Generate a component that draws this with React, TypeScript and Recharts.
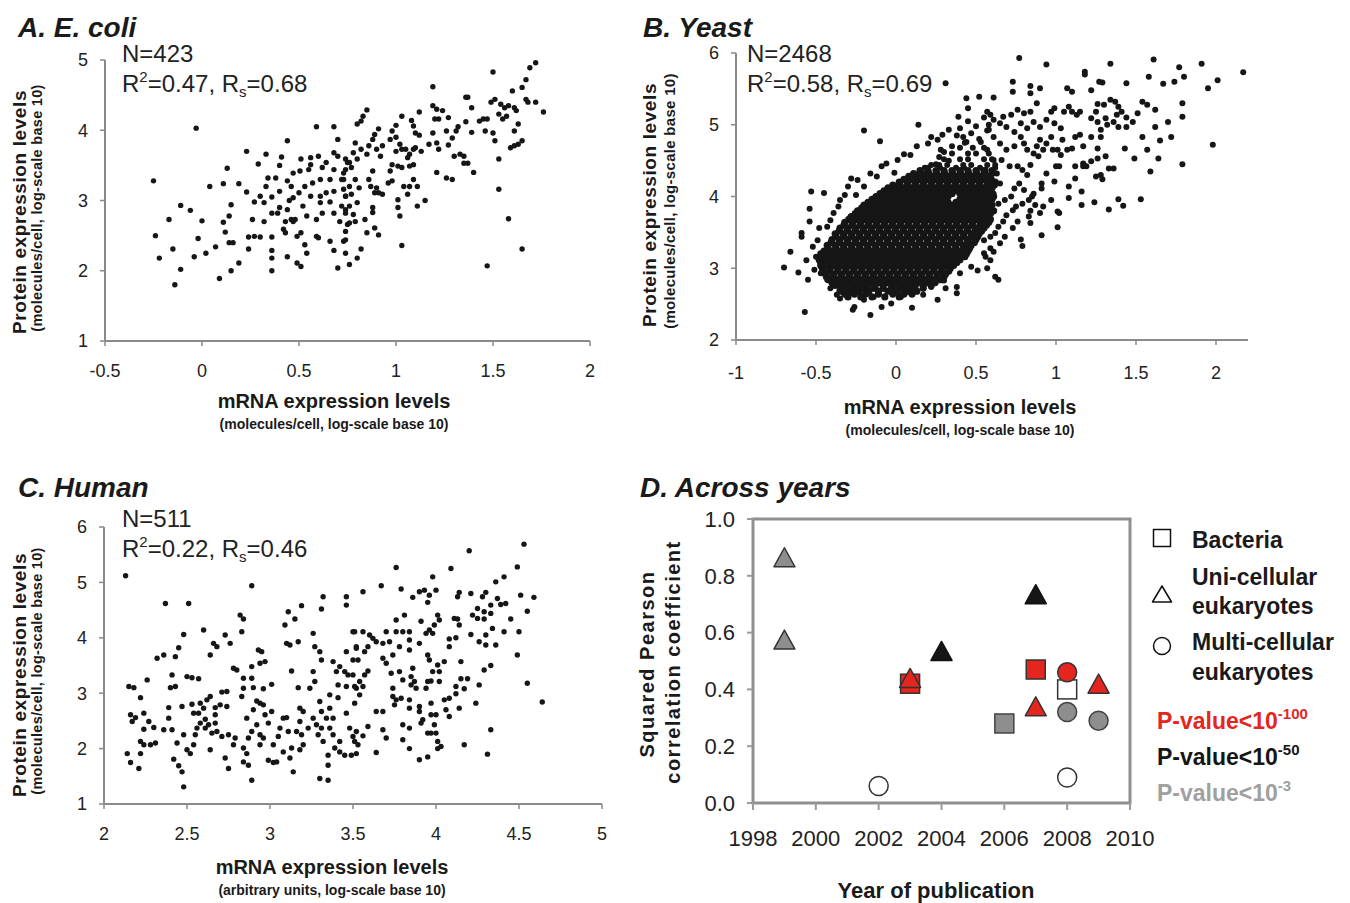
import React from 'react';
import { ScatterChart, Scatter, XAxis, YAxis, ReferenceArea } from 'recharts';

const FONT = '"Liberation Sans", Arial, Helvetica, sans-serif';
const AXIS_GRAY = '#8a8a8a';
const DOT = '#161616';

// ---------------- Panel A: E. coli ----------------
const ecoliXTicks = [-0.5, 0, 0.5, 1, 1.5, 2];
const ecoliYTicks = [1, 2, 3, 4, 5];
const ecoliPoints: [number, number][] = [
  [-0.03,4.03],[-0.25,3.28],[-0.17,2.73],[-0.24,2.50],[-0.22,2.18],[-0.11,2.93],[-0.06,2.86],[-0.15,2.31],[-0.11,2.02],[-0.14,1.80],
  [-0.02,2.46],[-0.04,2.20],[0.00,2.71],[0.02,2.25],[0.04,3.20],[0.07,2.34],[0.09,1.89],[0.11,3.24],[0.13,3.46],[0.11,2.69],
  [0.12,2.55],[0.15,2.94],[0.14,2.78],[0.14,2.40],[0.16,2.40],[0.15,2.00],[0.19,3.24],[0.19,2.11],[0.23,3.70],[0.23,3.12],
  [0.24,2.48],[0.24,2.31],[0.27,2.98],[0.26,2.73],[0.27,2.49],[0.30,2.48],[0.29,3.52],[0.33,3.66],[0.32,2.97],[0.32,2.70],
  [0.34,3.32],[0.36,3.05],[0.36,2.82],[0.36,2.48],[0.36,2.29],[0.36,2.18],[0.36,2.00],[0.38,3.32],[0.39,2.82],[0.40,3.50],
  [0.40,3.13],[0.41,3.62],[0.42,2.59],[0.43,2.54],[0.44,3.85],[0.44,3.28],[0.45,3.00],[0.44,2.20],[0.46,2.73],[0.47,2.70],
  [0.48,2.73],[0.47,3.39],[0.49,2.11],[0.50,3.11],[0.51,3.59],[0.51,2.06],[0.51,2.54],[0.53,3.20],[0.53,2.37],[0.54,2.78],
  [0.54,2.25],[0.55,3.44],[0.56,3.06],[0.56,3.51],[0.59,4.05],[0.59,2.49],[0.60,2.47],[0.60,3.63],[0.61,3.30],[0.61,2.97],
  [0.62,3.47],[0.62,2.82],[0.64,3.11],[0.66,2.98],[0.66,2.42],[0.68,2.82],[0.68,4.05],[0.70,3.87],[0.68,2.29],[0.70,2.04],
  [0.71,2.70],[0.70,3.63],[0.72,3.30],[0.68,3.68],[0.73,3.39],[0.74,3.06],[0.74,2.44],[0.75,2.66],[0.75,3.54],
  [0.505,3.42],[0.57,3.25],[0.66,3.30],[0.61,3.06],[0.52,2.92],[0.68,3.13],[0.72,2.92],[0.59,2.73],[0.74,2.82],[0.56,3.61],
  [0.64,3.54],[0.68,3.44],[0.47,3.04],[0.49,2.49],[0.44,2.87],[0.33,3.20],[0.30,3.06],[0.40,2.90],[0.43,2.70],[0.46,3.20],
  [1.72,4.96],[1.69,4.89],[1.50,4.83],[1.67,4.72],[1.65,4.61],[1.60,4.56],[1.19,4.62],[1.36,4.47],[1.37,4.47],[1.39,4.32],
  [1.51,4.44],[1.49,4.40],[1.54,4.37],[1.56,4.32],[1.58,4.35],[1.61,4.32],[1.62,4.28],[1.67,4.44],[1.68,4.40],[1.72,4.40],
  [1.76,4.26],[1.53,4.23],[1.55,4.16],[1.57,4.20],[1.63,4.09],[1.61,3.99],[1.65,3.85],[1.63,3.80],[1.59,3.75],[1.61,3.78],
  [1.51,3.85],[1.53,3.59],[1.53,3.16],[1.58,2.74],[1.65,2.31],[1.47,2.07],[1.46,3.99],[1.50,3.96],[1.47,4.16],[1.45,4.16],
  [1.43,4.13],[1.39,3.97],[1.36,4.12],[1.32,4.05],[1.31,3.99],[1.29,3.89],[1.26,3.99],[1.27,3.79],[1.19,4.35],[1.21,4.30],
  [1.24,4.28],[1.22,4.16],[1.20,4.16],[1.27,4.18],[1.19,3.96],[1.17,3.80],[1.21,3.82],[1.22,3.73],[1.30,3.63],[1.33,3.66],
  [1.35,3.63],[1.35,3.53],[1.37,3.53],[1.40,3.40],[1.21,3.40],[1.26,3.32],[1.29,3.30],[1.12,4.26],[1.08,4.14],[1.09,4.06],
  [1.10,3.96],[1.12,3.93],[1.03,4.20],[1.00,4.07],[0.98,3.99],[0.97,3.87],[1.00,3.90],[1.02,3.80],[1.00,3.70],[1.03,3.73],
  [1.05,3.73],[1.07,3.66],[1.09,3.73],[1.10,3.75],[1.09,3.51],[1.07,3.49],[1.06,3.61],[1.13,3.70],[1.03,3.47],[1.01,3.49],
  [0.98,3.51],[0.97,3.42],[0.98,3.28],[0.96,3.25],[1.04,3.20],[1.07,3.20],[1.09,3.30],[1.11,3.20],[1.06,3.09],[1.11,2.92],
  [1.15,3.00],[1.01,3.01],[1.01,2.90],[1.02,2.78],[1.03,2.36],[0.91,4.02],[0.89,3.94],[0.88,3.87],[0.85,4.29],[0.83,4.20],
  [0.80,4.09],[0.82,4.13],[0.93,3.78],[0.92,3.63],[0.90,3.73],[0.86,3.78],[0.85,3.66],[0.82,3.73],[0.79,3.82],[0.78,3.68],
  [0.80,3.59],[0.76,3.54],[0.74,3.59],[0.77,3.47],[0.74,3.44],[0.88,3.42],[0.86,3.30],[0.87,3.20],[0.90,3.18],[0.91,3.11],
  [0.93,3.09],[0.89,3.11],[0.81,3.18],[0.79,3.30],[0.76,3.20],[0.73,3.30],[0.73,3.16],[0.74,3.06],[0.77,3.09],[0.80,2.97],
  [0.76,2.92],[0.74,2.87],[0.78,2.80],[0.88,2.90],[0.88,2.83],[0.84,2.73],[0.89,2.61],[0.85,2.54],[0.91,2.51],[0.79,2.70],
  [0.76,2.68],[0.74,2.56],[0.73,2.42],[0.74,2.25],[0.80,2.18],[0.82,2.31],[0.76,2.09],
];

// ---------------- Panel B: Yeast ----------------
const yeastXTicks = [-1, -0.5, 0, 0.5, 1, 1.5, 2];
const yeastYTicks = [2, 3, 4, 5, 6];
// dense core of the cloud, read row by row (protein level, mRNA levels in that row)
const yeastCoreRows: [number, number[]][] = [
  [2.60, [-0.30,-0.22,-0.15,-0.07,0.02]],
  [2.64, [-0.32,-0.26,-0.19,-0.11,-0.02,0.05,0.10]],
  [2.68, [-0.35,-0.29,-0.23,-0.17,-0.11,-0.05,0.01,0.07,0.13]],
  [2.72, [-0.32,-0.26,-0.20,-0.14,-0.08,-0.02,0.04,0.10,0.17]],
  [2.76, [-0.38,-0.33,-0.28,-0.23,-0.18,-0.13,-0.08,-0.03,0.02,0.07,0.12,0.17,0.22]],
  [2.80, [-0.40,-0.355,-0.305,-0.255,-0.205,-0.155,-0.105,-0.055,-0.005,0.045,0.095,0.145,0.195,0.245]],
  [2.84, [-0.42,-0.37,-0.32,-0.27,-0.22,-0.17,-0.12,-0.07,-0.02,0.03,0.08,0.13,0.18,0.23,0.28]],
  [2.88, [-0.435,-0.395,-0.345,-0.295,-0.245,-0.195,-0.145,-0.095,-0.045,0.005,0.055,0.105,0.155,0.205,0.255,0.30]],
  [2.92, [-0.44,-0.39,-0.34,-0.29,-0.24,-0.19,-0.14,-0.09,-0.04,0.01,0.06,0.11,0.16,0.21,0.26,0.31]],
  [2.96, [-0.455,-0.415,-0.365,-0.315,-0.265,-0.215,-0.165,-0.115,-0.065,-0.015,0.035,0.085,0.135,0.185,0.235,0.285,0.33]],
  [3.00, [-0.46,-0.41,-0.36,-0.31,-0.26,-0.21,-0.16,-0.11,-0.06,-0.01,0.04,0.09,0.14,0.19,0.24,0.29,0.34]],
  [3.04, [-0.47,-0.435,-0.385,-0.335,-0.285,-0.235,-0.185,-0.135,-0.085,-0.035,0.015,0.065,0.115,0.165,0.215,0.265,0.315,0.36]],
  [3.08, [-0.47,-0.42,-0.37,-0.32,-0.27,-0.22,-0.17,-0.12,-0.07,-0.02,0.03,0.08,0.13,0.18,0.23,0.28,0.33,0.38]],
  [3.12, [-0.48,-0.445,-0.395,-0.345,-0.295,-0.245,-0.195,-0.145,-0.095,-0.045,0.005,0.055,0.105,0.155,0.205,0.255,0.305,0.355,0.40]],
  [3.16, [-0.46,-0.41,-0.36,-0.31,-0.26,-0.21,-0.16,-0.11,-0.06,-0.01,0.04,0.09,0.14,0.19,0.24,0.29,0.34,0.39,0.43]],
  [3.20, [-0.47,-0.435,-0.385,-0.335,-0.285,-0.235,-0.185,-0.135,-0.085,-0.035,0.015,0.065,0.115,0.165,0.215,0.265,0.315,0.365,0.41,0.44]],
  [3.24, [-0.45,-0.40,-0.35,-0.30,-0.25,-0.20,-0.15,-0.10,-0.05,0.00,0.05,0.10,0.15,0.20,0.25,0.30,0.35,0.40,0.45]],
  [3.28, [-0.425,-0.375,-0.325,-0.275,-0.225,-0.175,-0.125,-0.075,-0.025,0.025,0.075,0.125,0.175,0.225,0.275,0.325,0.375,0.425,0.46]],
  [3.32, [-0.43,-0.38,-0.33,-0.28,-0.23,-0.18,-0.13,-0.08,-0.03,0.02,0.07,0.12,0.17,0.22,0.27,0.32,0.37,0.42,0.47]],
  [3.36, [-0.405,-0.355,-0.305,-0.255,-0.205,-0.155,-0.105,-0.055,-0.005,0.045,0.095,0.145,0.195,0.245,0.295,0.345,0.395,0.445,0.49]],
  [3.40, [-0.40,-0.35,-0.30,-0.25,-0.20,-0.15,-0.10,-0.05,0.00,0.05,0.10,0.15,0.20,0.25,0.30,0.35,0.40,0.45,0.50]],
  [3.44, [-0.375,-0.325,-0.275,-0.225,-0.175,-0.125,-0.075,-0.025,0.025,0.075,0.125,0.175,0.225,0.275,0.325,0.375,0.425,0.475,0.51]],
  [3.48, [-0.38,-0.33,-0.28,-0.23,-0.18,-0.13,-0.08,-0.03,0.02,0.07,0.12,0.17,0.22,0.27,0.32,0.37,0.42,0.47,0.52]],
  [3.52, [-0.355,-0.305,-0.255,-0.205,-0.155,-0.105,-0.055,-0.005,0.045,0.095,0.145,0.195,0.245,0.295,0.345,0.395,0.445,0.495,0.535]],
  [3.56, [-0.35,-0.30,-0.25,-0.20,-0.15,-0.10,-0.05,0.00,0.05,0.10,0.15,0.20,0.25,0.30,0.35,0.40,0.45,0.50,0.55]],
  [3.60, [-0.325,-0.275,-0.225,-0.175,-0.125,-0.075,-0.025,0.025,0.075,0.125,0.175,0.225,0.275,0.325,0.375,0.425,0.475,0.525,0.565]],
  [3.64, [-0.32,-0.27,-0.22,-0.17,-0.12,-0.07,-0.02,0.03,0.08,0.13,0.18,0.23,0.28,0.33,0.38,0.43,0.48,0.53,0.58]],
  [3.68, [-0.295,-0.245,-0.195,-0.145,-0.095,-0.045,0.005,0.055,0.105,0.155,0.205,0.255,0.305,0.355,0.405,0.455,0.505,0.555,0.59]],
  [3.72, [-0.28,-0.23,-0.18,-0.13,-0.08,-0.03,0.02,0.07,0.12,0.17,0.22,0.27,0.32,0.37,0.42,0.47,0.52,0.57]],
  [3.76, [-0.255,-0.205,-0.155,-0.105,-0.055,-0.005,0.045,0.095,0.145,0.195,0.245,0.295,0.345,0.395,0.445,0.495,0.545,0.59]],
  [3.80, [-0.24,-0.19,-0.14,-0.09,-0.04,0.01,0.06,0.11,0.16,0.21,0.26,0.31,0.36,0.41,0.46,0.51,0.56,0.61]],
  [3.84, [-0.215,-0.165,-0.115,-0.065,-0.015,0.035,0.085,0.135,0.185,0.235,0.285,0.335,0.385,0.435,0.485,0.535,0.585]],
  [3.88, [-0.20,-0.15,-0.10,-0.05,0.00,0.05,0.10,0.15,0.20,0.25,0.30,0.35,0.40,0.45,0.50,0.55,0.60]],
  [3.92, [-0.175,-0.125,-0.075,-0.025,0.025,0.075,0.125,0.175,0.225,0.275,0.325,0.375,0.425,0.475,0.525,0.575]],
  [3.96, [-0.15,-0.10,-0.05,0.00,0.05,0.10,0.15,0.20,0.25,0.30,0.40,0.45,0.50,0.55,0.60]],
  [4.00, [-0.125,-0.075,-0.025,0.025,0.075,0.125,0.175,0.225,0.275,0.325,0.425,0.475,0.525,0.575,0.61]],
  [4.04, [-0.10,-0.05,0.00,0.05,0.10,0.15,0.20,0.25,0.30,0.35,0.40,0.45,0.50,0.55,0.60]],
  [4.08, [-0.075,-0.025,0.025,0.075,0.125,0.175,0.225,0.275,0.325,0.375,0.425,0.475,0.525,0.575]],
  [4.12, [-0.05,0.00,0.05,0.10,0.15,0.20,0.25,0.30,0.35,0.40,0.45,0.50,0.55,0.60]],
  [4.16, [-0.02,0.025,0.075,0.125,0.175,0.225,0.275,0.325,0.375,0.425,0.475,0.525,0.575,0.615]],
  [4.20, [0.02,0.07,0.12,0.17,0.22,0.27,0.32,0.37,0.42,0.47,0.52,0.57,0.62]],
  [4.24, [0.05,0.095,0.145,0.195,0.245,0.295,0.345,0.395,0.445,0.495,0.545,0.595]],
  [4.28, [0.08,0.13,0.18,0.23,0.28,0.33,0.38,0.43,0.48,0.53,0.58]],
  [4.32, [0.11,0.155,0.205,0.255,0.305,0.355,0.405,0.455,0.505,0.555,0.60]],
  [4.36, [0.15,0.20,0.25,0.30,0.35,0.40,0.45,0.50,0.55,0.60]],
];
const yeastScatter: [number, number][] = [
  [0.18,4.40],[0.275,4.40],[0.375,4.40],[0.425,4.40],[0.525,4.40],[0.62,4.40],[0.22,4.44],[0.27,4.44],[0.32,4.44],[0.42,4.44],
  [0.47,4.44],[0.57,4.44],[0.62,4.44],[0.30,4.52],[0.40,4.52],[0.45,4.52],[0.55,4.52],[0.60,4.52],[0.35,4.60],[0.45,4.60],
  [0.50,4.60],[0.58,4.60],[0.40,4.68],[0.48,4.68],[0.55,4.68],[0.44,4.76],[0.53,4.76],
  [-0.70,3.01],[-0.66,3.23],[-0.61,2.94],[-0.57,2.39],[-0.55,2.84],[-0.56,3.11],[-0.54,3.65],[-0.54,3.83],[-0.53,4.07],[-0.45,4.05],
  [-0.59,3.49],[-0.59,3.44],[-0.48,3.56],[-0.49,3.39],[-0.52,3.30],[-0.50,3.16],[-0.51,2.98],[-0.37,2.63],[-0.35,2.58],[-0.26,2.46],
  [-0.27,2.42],[-0.16,2.35],[-0.09,2.46],[0.10,2.45],[0.17,2.63],[0.26,2.56],[0.31,2.72],[0.38,2.65],[0.38,2.74],[-0.28,4.25],
  [-0.32,4.02],[-0.36,3.86],[-0.25,4.02],[-0.20,4.92],[-0.10,4.77],[0.14,5.00],[0.05,4.59],[-0.01,4.33],[-0.12,4.28],[0.33,4.93],
  [0.39,5.11],[0.44,5.37],[0.52,5.39],[0.45,5.23],[0.29,4.86],[0.42,4.83],[0.31,5.58],
  [-0.41,3.67],[-0.39,3.77],[-0.35,3.95],[-0.43,3.58],[-0.30,4.14],[-0.24,4.23],[-0.20,4.14],[-0.16,4.32],[-0.09,4.42],[-0.06,4.46],
  [0.01,4.51],[0.09,4.58],[0.13,4.70],[0.20,4.74],[0.22,4.83],[0.26,4.79],[0.28,4.65],[-0.43,2.84],[-0.47,2.93],[-0.41,2.72],
  [-0.35,2.74],[-0.20,2.56],[-0.14,2.60],[-0.03,2.51],[0.03,2.60],[0.22,2.74],[0.30,2.83],[0.40,2.93],[0.47,3.02],[0.51,2.97],[0.55,3.21],
  [0.40,4.95],[0.45,5.05],[0.50,4.98],[0.55,5.10],[0.47,4.88],[0.52,4.80],[0.57,4.92],[0.43,4.75],[0.38,4.85],[0.58,5.00],
  [0.35,4.70],[0.30,4.62],[0.27,4.55],[0.25,4.45],[0.20,4.40],[0.33,4.50],[0.12,4.30],[0.18,4.32],
  [0.77,5.93],[0.94,5.84],[1.34,5.85],[1.61,5.91],[1.77,5.80],[1.91,5.85],[2.17,5.73],[2.01,5.62],[1.95,5.51],[1.80,5.67],
  [1.74,5.60],[1.67,5.57],[1.58,5.67],[1.44,5.58],[1.29,5.59],[1.27,5.60],[1.22,5.48],[1.18,5.74],[1.18,5.70],[1.10,5.46],
  [1.07,5.51],[0.90,5.51],[0.84,5.54],[0.84,5.44],[0.73,5.60],[0.73,5.46],[0.61,5.38],[1.79,5.30],[1.79,5.11],[1.98,4.72],
  [1.79,4.45],[1.72,4.83],[1.70,5.04],[1.65,4.78],[1.64,4.53],[1.59,4.35],[1.57,4.65],[1.54,4.83],[1.62,4.97],[1.62,5.21],
  [1.57,5.28],[1.54,5.32],[1.51,5.16],[1.48,5.04],[1.49,4.53],[1.43,4.67],[1.53,3.96],[1.42,3.87],[1.39,3.96],[1.33,3.82],
  [1.24,3.92],[1.16,3.88],[1.16,4.07],[1.08,3.98],[1.01,3.79],[1.02,3.77],[1.01,3.57],[0.91,3.46],[0.78,3.40],[0.79,3.31],
  [0.84,3.63],[0.83,3.72],[0.84,3.80],[0.64,2.84],[0.62,2.88],[0.57,3.00],[0.61,3.23],[0.59,3.28],[1.08,4.14],[1.12,4.42],
  [1.12,4.25],[1.17,4.42],[1.17,4.46],[1.25,4.28],[1.28,4.30],[1.29,4.24],[1.33,4.39],[1.36,4.39],[1.31,4.56],[1.26,4.53],
  [1.26,4.67],[1.22,4.49],[1.19,4.42],[1.17,4.70],[1.15,4.86],[1.22,4.83],[1.28,4.83],[1.28,4.93],[1.26,5.04],[1.22,5.09],
  [1.25,5.18],[1.26,5.29],[1.30,5.28],[1.34,5.35],[1.37,5.32],[1.39,5.25],[1.41,5.18],[1.38,5.14],[1.36,5.04],[1.44,5.10],
  [1.44,4.97],[1.39,4.97],[1.32,5.00],[1.31,5.09],[1.10,5.18],[1.08,5.25],[1.05,5.18],[0.99,5.23],[0.97,5.18],[0.94,5.07],
  [0.99,5.02],[1.03,4.95],[1.04,4.79],[1.07,4.65],[1.10,4.67],[1.12,4.83],[1.13,5.14],[1.15,5.18],[1.01,4.65],[0.98,4.65],
  [1.03,4.58],[1.00,4.42],[1.02,4.42],[0.99,4.21],[0.94,4.32],[0.91,4.18],[0.91,4.11],[0.86,4.04],[0.85,4.00],[0.83,3.95],
  [0.79,3.90],[0.75,3.86],[0.73,3.81],[0.69,3.74],[0.67,3.65],[0.64,3.58],[0.62,3.49],[0.59,3.44],[0.55,3.39],[0.97,3.95],
  [0.92,3.86],[0.90,3.77],[0.87,3.88],[0.80,4.09],[0.77,4.18],[0.74,4.11],[0.72,4.00],[0.68,3.95],[0.82,4.30],[0.79,4.37],
  [0.76,4.42],[0.84,4.44],[0.89,4.56],[0.92,4.65],[0.94,4.74],[0.97,4.83],[0.90,4.79],[0.88,4.70],[0.86,4.60],[0.82,4.65],
  [0.80,4.74],[0.78,4.83],[0.74,4.90],[0.69,4.97],[0.65,5.02],[0.61,5.07],[0.59,5.14],[0.57,5.18],[0.67,5.11],[0.72,5.14],
  [0.76,5.21],[0.80,5.16],[0.84,5.18],[0.88,5.30],[0.86,5.04],[0.90,4.97],[0.82,4.95],[0.78,5.02],[0.74,4.70],[0.69,4.65],
  [0.65,4.74],[0.61,4.83],[0.58,4.93],[0.66,4.51],[0.71,4.42],[0.61,4.51],[0.57,4.65],[0.63,4.32],[0.59,4.23],[0.65,4.18],
  [0.56,4.37],[0.61,4.04],[0.57,4.00],[0.64,3.90],[0.59,3.81],[0.55,3.72],[0.76,3.65],[0.73,3.56],[0.68,3.44],[0.65,3.35],
  [0.59,3.11],[0.56,3.16],
];

// ---------------- Panel C: Human ----------------
const humanXTicks = [2, 2.5, 3, 3.5, 4, 4.5, 5];
const humanYTicks = [1, 2, 3, 4, 5, 6];
const humanPoints: [number, number][] = [
  [2.13,5.12],[2.37,4.62],[2.51,4.62],[2.89,4.94],[2.48,4.06],[2.60,4.14],[2.45,3.82],[2.43,3.66],[2.36,3.69],[2.32,3.63],
  [2.41,3.33],[2.50,3.30],[2.53,3.28],[2.57,3.26],[2.15,3.12],[2.18,3.10],[2.26,3.24],[2.22,2.92],[2.40,3.10],[2.43,3.12],
  [2.47,2.76],[2.39,2.74],[2.16,2.61],[2.17,2.49],[2.19,2.56],[2.24,2.64],[2.27,2.49],[2.24,2.35],[2.30,2.38],[2.36,2.34],
  [2.41,2.34],[2.22,2.13],[2.24,2.07],[2.28,2.07],[2.31,2.10],[2.22,1.91],[2.14,1.91],[2.16,1.75],[2.21,1.64],[2.39,2.55],
  [2.44,2.10],[2.42,1.81],[2.45,1.69],[2.47,1.58],[2.48,1.31],[2.48,2.25],[2.50,1.98],[2.52,1.91],[2.54,2.07],[2.53,2.80],
  [2.54,2.64],[2.57,2.64],[2.58,2.82],[2.60,2.73],[2.62,2.88],[2.64,2.94],[2.56,2.37],[2.55,2.25],[2.58,2.46],[2.61,2.53],
  [2.61,2.37],[2.63,2.43],[2.67,2.61],[2.67,2.46],[2.68,2.31],[2.65,2.28],[2.67,2.74],[2.70,2.79],[2.71,3.02],[2.74,3.03],
  [2.74,2.76],[2.75,2.25],[2.71,2.22],[2.79,2.19],[2.78,2.07],[2.64,1.98],[2.73,1.83],[2.75,1.64],[2.66,3.90],[2.68,3.84],
  [2.73,4.05],[2.76,3.90],[2.64,3.69],[2.78,3.45],[2.80,3.42],[2.84,3.27],[2.84,3.09],[2.83,2.94],[2.82,4.41],[2.84,4.34],
  [2.83,4.11],[2.89,3.48],[2.93,3.78],[2.95,3.75],[2.94,3.54],[2.97,3.57],[2.89,3.27],[2.90,3.10],[2.96,3.08],[3.01,3.16],
  [2.92,2.86],[2.94,2.82],[2.96,2.79],[2.90,2.70],[2.86,2.55],[2.89,2.31],[2.87,2.19],[2.84,2.01],[2.86,1.91],[2.84,1.76],
  [2.87,1.70],[2.89,1.43],[2.92,2.43],[2.94,2.25],[2.94,2.07],[2.96,2.19],[2.97,2.61],[2.99,2.46],[2.99,1.79],[3.02,1.75],
  [3.04,1.76],[3.02,2.07],[3.05,2.22],[3.06,2.37],[3.08,2.55],[3.10,2.56],[3.01,2.67],[3.08,1.94],[3.11,2.31],[3.13,2.01],
  [3.12,1.83],[3.14,1.58],[3.09,4.23],[3.11,4.47],[3.15,4.34],[3.19,4.58],[3.10,3.90],[3.12,3.87],[3.17,3.93],[3.13,3.40],
  [3.17,3.10],[3.18,2.73],[3.20,2.67],[3.18,2.49],[3.16,2.31],[3.19,2.25],[3.20,2.07],[3.18,1.98],[3.23,2.37],[3.24,3.09],
  [3.26,4.08],[3.27,3.84],[3.31,3.60],[3.30,3.75],[3.32,4.74],[3.31,4.52],[3.26,3.39],[3.27,3.21],[3.30,2.85],[3.31,2.67],
  [3.26,2.55],[3.28,2.43],[3.31,2.37],[3.29,2.25],[3.32,2.13],[3.34,2.55],[3.36,2.73],[3.36,2.97],[3.36,2.37],[3.38,2.55],
  [3.38,2.25],[3.39,2.01],[3.42,1.94],[3.45,1.88],[3.42,2.13],[3.35,1.88],[3.35,1.70],[3.30,1.46],[3.35,1.43],[3.40,3.39],
  [3.38,3.57],[3.42,3.48],[3.45,3.39],[3.47,3.33],[3.46,3.75],[3.50,4.11],[3.46,4.74],[3.46,4.59],[3.41,3.15],[3.46,3.12],
  [3.41,2.92],[3.46,2.64],[3.48,2.37],[3.50,2.22],[3.52,3.84],[3.53,3.60],[3.52,3.09],
  [4.53,5.69],[4.20,5.57],[3.76,5.27],[4.09,5.25],[4.49,5.28],[4.41,5.10],[4.36,5.01],[3.98,5.10],[3.67,4.94],[3.56,4.83],
  [3.79,4.88],[3.86,4.73],[3.90,4.83],[3.93,4.86],[3.96,4.77],[4.00,4.86],[3.95,4.64],[4.13,4.74],[4.14,4.82],[4.21,4.80],
  [4.28,4.74],[4.30,4.82],[4.37,4.71],[4.39,4.60],[4.42,4.62],[4.51,4.77],[4.59,4.73],[4.55,4.48],[4.45,4.34],[4.41,4.11],
  [4.50,4.11],[4.49,3.69],[4.55,3.18],[4.64,2.84],[4.33,2.34],[4.31,1.90],[4.24,2.82],[4.26,3.15],[4.29,3.42],[4.33,3.50],
  [4.36,3.87],[4.30,3.87],[4.26,3.93],[4.30,4.05],[4.34,4.17],[4.29,4.34],[4.25,4.35],[4.22,4.41],[4.25,4.53],[4.29,4.47],
  [4.33,4.44],[4.33,4.59],[4.21,4.06],[4.14,4.23],[4.11,4.35],[4.13,4.34],[4.08,3.98],[4.12,4.00],[4.08,3.84],[4.15,3.57],
  [4.15,3.26],[4.19,3.26],[4.17,3.08],[4.12,2.99],[4.08,2.91],[4.14,2.73],[4.08,2.58],[4.06,2.70],[4.17,2.07],[4.02,4.32],
  [4.01,4.41],[3.99,4.23],[3.96,4.14],[3.94,4.08],[3.98,4.08],[3.91,4.30],[3.84,4.11],[3.80,4.11],[3.76,4.32],[3.81,4.41],
  [3.76,4.11],[3.70,4.11],[3.68,3.90],[3.72,3.93],[3.64,3.93],[3.60,4.05],[3.62,3.99],[3.56,4.11],[3.51,4.11],[3.52,3.81],
  [3.59,3.84],[3.57,3.75],[3.50,3.60],[3.50,3.33],[3.54,3.21],[3.57,3.33],[3.59,3.40],[3.56,3.12],[3.51,3.12],[3.54,2.97],
  [3.51,2.82],[3.68,3.63],[3.70,3.54],[3.74,3.69],[3.78,3.84],[3.84,3.96],[3.90,3.90],[3.84,3.78],[3.95,3.69],[3.96,3.60],
  [4.01,3.51],[4.05,3.57],[4.02,3.39],[3.98,3.39],[3.97,3.22],[3.94,3.09],[3.95,3.21],[4.02,3.21],[3.86,3.45],[3.85,3.30],
  [3.87,3.21],[3.88,3.09],[3.85,3.15],[3.78,3.39],[3.80,3.24],[3.74,3.09],[3.73,3.36],[3.74,2.94],[3.76,2.88],[3.79,2.91],
  [3.84,2.88],[3.75,2.79],[3.84,2.73],[3.90,2.76],[3.97,2.82],[3.90,2.67],[3.97,2.61],[4.00,2.61],[3.92,2.52],[3.91,2.46],
  [3.99,2.43],[3.95,2.28],[3.97,2.28],[4.00,2.28],[4.01,2.13],[4.03,2.04],[4.01,2.00],[3.95,1.85],[3.90,1.80],[3.68,2.67],
  [3.64,2.67],[3.68,2.34],[3.70,2.19],[3.80,2.43],[3.84,2.37],[3.80,2.16],[3.84,2.00],[3.64,1.93],[3.59,2.40],[3.56,2.23],
  [3.52,2.31],[3.51,2.13],[3.53,2.07],[3.52,1.91],[3.49,1.88],[4.05,2.88],[4.12,3.12],
];

// ---------------- Panel D: Across years ----------------
const yearTicks = [1998, 2000, 2002, 2004, 2006, 2008, 2010];
const r2Ticks = [0, 0.2, 0.4, 0.6, 0.8, 1.0];
const grayTriangles: [number, number][] = [[1999, 0.86], [1999, 0.57]];
const blackTriangles: [number, number][] = [[2004, 0.53], [2007, 0.73]];
const redTriangles: [number, number][] = [[2003, 0.435], [2007, 0.335], [2009, 0.415]];
const redSquares: [number, number][] = [[2003, 0.42], [2007, 0.47]];
const graySquares: [number, number][] = [[2006, 0.28]];
const whiteSquares: [number, number][] = [[2008, 0.40]];
const redCircles: [number, number][] = [[2008, 0.46]];
const grayCircles: [number, number][] = [[2008, 0.32], [2009, 0.29]];
const whiteCircles: [number, number][] = [[2002, 0.06], [2008, 0.09]];

const RED = '#e5261e';
const MID_GRAY = '#8e8e8e';

const toXY = (arr: [number, number][]) => arr.map(([x, y]) => ({ x, y }));
const yeastCorePoints: [number, number][] = yeastCoreRows.flatMap(([y, xs]) => xs.map((x) => [x, y] as [number, number]));

const makeDot = (r: number) => (p: any) => <circle cx={p.cx} cy={p.cy} r={r} fill={DOT} />;

const markerShape = (kind: string, fill: string, stroke: string) => (p: any) => {
  const { cx, cy } = p;
  if (kind === 'square') {
    return <rect x={cx - 9.5} y={cy - 9.5} width={19} height={19} fill={fill} stroke={stroke} strokeWidth={1.5} />;
  }
  if (kind === 'triangle') {
    return (
      <polygon
        points={`${cx},${cy - 11} ${cx + 10.5},${cy + 8} ${cx - 10.5},${cy + 8}`}
        fill={fill}
        stroke={stroke}
        strokeWidth={1.5}
        strokeLinejoin="round"
      />
    );
  }
  return <circle cx={cx} cy={cy} r={9.5} fill={fill} stroke={stroke} strokeWidth={1.5} />;
};

const tickStyle = { fill: '#222', fontSize: 18, fontFamily: FONT };

type PanelProps = {
  left: number;
  top: number;
  width: number;
  height: number;
  margin: { top: number; right: number; bottom: number; left: number };
  xDomain: [number, number];
  yDomain: [number, number];
  xTicks: number[];
  yTicks: number[];
  points: [number, number][];
  densePoints?: [number, number][];
  yTickMargin: number;
  xTickMargin: number;
  dotR: number;
};

function DotPanel(props: PanelProps) {
  const { left, top, width, height, margin, xDomain, yDomain, xTicks, yTicks, points, densePoints, yTickMargin, xTickMargin, dotR } = props;
  return (
    <div style={{ position: 'absolute', left, top }}>
      <ScatterChart width={width} height={height} margin={margin}>
        <XAxis
          type="number"
          dataKey="x"
          domain={xDomain}
          ticks={xTicks}
          interval={0}
          allowDataOverflow
          height={40}
          axisLine={{ stroke: AXIS_GRAY, strokeWidth: 2 }}
          tickLine={{ stroke: AXIS_GRAY, strokeWidth: 1.5 }}
          tickSize={5}
          tickMargin={xTickMargin}
          tick={tickStyle}
        />
        <YAxis
          type="number"
          dataKey="y"
          domain={yDomain}
          ticks={yTicks}
          interval={0}
          allowDataOverflow
          width={40}
          axisLine={{ stroke: AXIS_GRAY, strokeWidth: 2 }}
          tickLine={{ stroke: AXIS_GRAY, strokeWidth: 1.5 }}
          tickSize={5}
          tickMargin={yTickMargin}
          tick={tickStyle}
        />
        {densePoints && <Scatter data={toXY(densePoints)} isAnimationActive={false} shape={makeDot(3.6)} />}
        <Scatter data={toXY(points)} isAnimationActive={false} shape={makeDot(dotR)} />
      </ScatterChart>
    </div>
  );
}

const dTick = { fill: '#222', fontSize: 22, fontFamily: FONT };

function YearsPanel() {
  return (
    <div style={{ position: 'absolute', left: 620, top: 460 }}>
      <ScatterChart width={730} height={443} margin={{ top: 59, right: 220, bottom: 50, left: 83 }}>
        <XAxis
          type="number"
          dataKey="x"
          domain={[1998, 2010]}
          ticks={yearTicks}
          interval={0}
          height={50}
          axisLine={false}
          tickLine={{ stroke: '#9a9a9a', strokeWidth: 2 }}
          tickSize={7}
          tickMargin={20}
          tick={dTick}
        />
        <YAxis
          type="number"
          dataKey="y"
          domain={[0, 1]}
          ticks={r2Ticks}
          interval={0}
          width={50}
          axisLine={false}
          tickLine={{ stroke: '#9a9a9a', strokeWidth: 2 }}
          tickSize={6}
          tickMargin={12}
          tickFormatter={(v: number) => v.toFixed(1)}
          tick={dTick}
        />
        <ReferenceArea x1={1998} x2={2010} y1={0} y2={1} fill="none" fillOpacity={0} stroke="#8f8f8f" strokeWidth={3} ifOverflow="visible" />
        <Scatter data={toXY(graySquares)} isAnimationActive={false} shape={markerShape('square', MID_GRAY, '#444')} />
        <Scatter data={toXY(redSquares)} isAnimationActive={false} shape={markerShape('square', RED, '#333')} />
        <Scatter data={toXY(whiteSquares)} isAnimationActive={false} shape={markerShape('square', '#fff', '#333')} />
        <Scatter data={toXY(whiteCircles)} isAnimationActive={false} shape={markerShape('circle', '#fff', '#333')} />
        <Scatter data={toXY(grayCircles)} isAnimationActive={false} shape={markerShape('circle', MID_GRAY, '#444')} />
        <Scatter data={toXY(redCircles)} isAnimationActive={false} shape={markerShape('circle', RED, '#333')} />
        <Scatter data={toXY(grayTriangles)} isAnimationActive={false} shape={markerShape('triangle', MID_GRAY, '#333')} />
        <Scatter data={toXY(blackTriangles)} isAnimationActive={false} shape={markerShape('triangle', '#161616', '#111')} />
        <Scatter data={toXY(redTriangles)} isAnimationActive={false} shape={markerShape('triangle', RED, '#333')} />
      </ScatterChart>
    </div>
  );
}

function Stats({ x, y, n, r2, rs }: { x: number; y: number; n: string; r2: string; rs: string }) {
  return (
    <g fontFamily={FONT} fill="#222" fontSize={24}>
      <text x={x} y={y}>{n}</text>
      <text x={x} y={y + 30}>
        R<tspan fontSize={15} dy={-10}>2</tspan>
        <tspan dy={10}>{`=${r2}, R`}</tspan>
        <tspan fontSize={15} dy={5}>s</tspan>
        <tspan dy={-5}>{`=${rs}`}</tspan>
      </text>
    </g>
  );
}

function YLabel({ x1, x2, cy, line2, size2 }: { x1: number; x2: number; cy: number; line2: string; size2: number }) {
  return (
    <g fontFamily={FONT} fontWeight="bold" fill="#1a1a1a" textAnchor="middle">
      <text transform={`translate(${x1},${cy}) rotate(-90)`} fontSize={19} letterSpacing={0.6}>
        Protein expression levels
      </text>
      <text transform={`translate(${x2},${cy - 4}) rotate(-90)`} fontSize={size2} letterSpacing={0.3}>
        {line2}
      </text>
    </g>
  );
}

function XLabel({ cx, y, sub }: { cx: number; y: number; sub: string }) {
  return (
    <g fontFamily={FONT} fontWeight="bold" fill="#1a1a1a" textAnchor="middle">
      <text x={cx} y={y} fontSize={20}>mRNA expression levels</text>
      <text x={cx} y={y + 21} fontSize={14}>{sub}</text>
    </g>
  );
}

function Overlay() {
  const title = { fontFamily: FONT, fontWeight: 'bold' as const, fontStyle: 'italic' as const, fontSize: 28, fill: '#1a1a1a' };
  const legendText = { fontFamily: FONT, fontWeight: 'bold' as const, fontSize: 23, fill: '#1a1a1a' };
  return (
    <svg width={1350} height={903} style={{ position: 'absolute', left: 0, top: 0, pointerEvents: 'none' }}>
      {/* Panel titles */}
      <text x={18} y={37} {...title}>A. E. coli</text>
      <text x={643} y={37} {...title}>B. Yeast</text>
      <text x={18} y={497} {...title}>C. Human</text>
      <text x={640} y={497} {...title}>D. Across years</text>

      {/* Stats */}
      <Stats x={122} y={62} n="N=423" r2="0.47" rs="0.68" />
      <Stats x={747} y={62} n="N=2468" r2="0.58" rs="0.69" />
      <Stats x={122} y={527} n="N=511" r2="0.22" rs="0.46" />

      {/* Axis titles */}
      <YLabel x1={26} x2={42} cy={212} size2={14.5} line2="(molecules/cell, log-scale base 10)" />
      <YLabel x1={656} x2={675} cy={205} size2={15} line2="(molecules/cell, log-scale base 10)" />
      <YLabel x1={26} x2={42} cy={675} size2={14.5} line2="(molecules/cell, log-scale base 10)" />
      <XLabel cx={334} y={408} sub="(molecules/cell, log-scale base 10)" />
      <XLabel cx={960} y={414} sub="(molecules/cell, log-scale base 10)" />
      <XLabel cx={332} y={874} sub="(arbitrary units, log-scale base 10)" />

      {/* Panel D axis titles */}
      <g fontFamily={FONT} fontWeight="bold" fill="#1a1a1a" textAnchor="middle" fontSize={20} letterSpacing={1.5}>
        <text transform="translate(654,664) rotate(-90)">Squared Pearson</text>
        <text transform="translate(680,662) rotate(-90)">correlation coefficient</text>
      </g>
      <text x={936} y={898} textAnchor="middle" fontFamily={FONT} fontWeight="bold" fontSize={22} fill="#1a1a1a">
        Year of publication
      </text>

      {/* Panel D legend */}
      <rect x={1153.5} y={529.5} width={17} height={17} fill="#fff" stroke="#111" strokeWidth={1.5} />
      <text x={1192} y={548} {...legendText}>Bacteria</text>
      <polygon points="1162,586 1171.5,602 1152.5,602" fill="#fff" stroke="#111" strokeWidth={1.5} strokeLinejoin="round" />
      <text x={1192} y={585} {...legendText}>Uni-cellular</text>
      <text x={1192} y={614} {...legendText}>eukaryotes</text>
      <circle cx={1162} cy={646} r={8.5} fill="#fff" stroke="#111" strokeWidth={1.5} />
      <text x={1192} y={650} {...legendText}>Multi-cellular</text>
      <text x={1192} y={680} {...legendText}>eukaryotes</text>

      <g fontFamily={FONT} fontWeight="bold" fontSize={23}>
        <text x={1157} y={729} fill={RED}>
          P-value&lt;10<tspan fontSize={15} dy={-10}>-100</tspan>
        </text>
        <text x={1157} y={765} fill="#161616">
          P-value&lt;10<tspan fontSize={15} dy={-10}>-50</tspan>
        </text>
        <text x={1157} y={801} fill="#a0a0a0">
          P-value&lt;10<tspan fontSize={15} dy={-10}>-3</tspan>
        </text>
      </g>
    </svg>
  );
}

export default function App() {
  return (
    <div style={{ position: 'absolute', left: 0, top: 0, width: 1350, height: 903, background: '#fff', overflow: 'hidden' }}>
      <DotPanel
        left={0}
        top={0}
        width={620}
        height={440}
        margin={{ top: 60, right: 30, bottom: 59, left: 65 }}
        xDomain={[-0.5, 2]}
        yDomain={[1, 5]}
        xTicks={ecoliXTicks}
        yTicks={ecoliYTicks}
        points={ecoliPoints}
        yTickMargin={12}
        xTickMargin={18}
        dotR={2.7}
      />
      <DotPanel
        left={620}
        top={0}
        width={730}
        height={440}
        margin={{ top: 53, right: 102, bottom: 60, left: 76 }}
        xDomain={[-1, 2.2]}
        yDomain={[2, 6]}
        xTicks={yeastXTicks}
        yTicks={yeastYTicks}
        points={yeastScatter}
        densePoints={yeastCorePoints}
        yTickMargin={12}
        xTickMargin={21}
        dotR={3}
      />
      <DotPanel
        left={0}
        top={460}
        width={620}
        height={440}
        margin={{ top: 67, right: 18, bottom: 56, left: 64 }}
        xDomain={[2, 5]}
        yDomain={[1, 6]}
        xTicks={humanXTicks}
        yTicks={humanYTicks}
        points={humanPoints}
        yTickMargin={12}
        xTickMargin={18}
        dotR={2.7}
      />
      <YearsPanel />
      <Overlay />
    </div>
  );
}
